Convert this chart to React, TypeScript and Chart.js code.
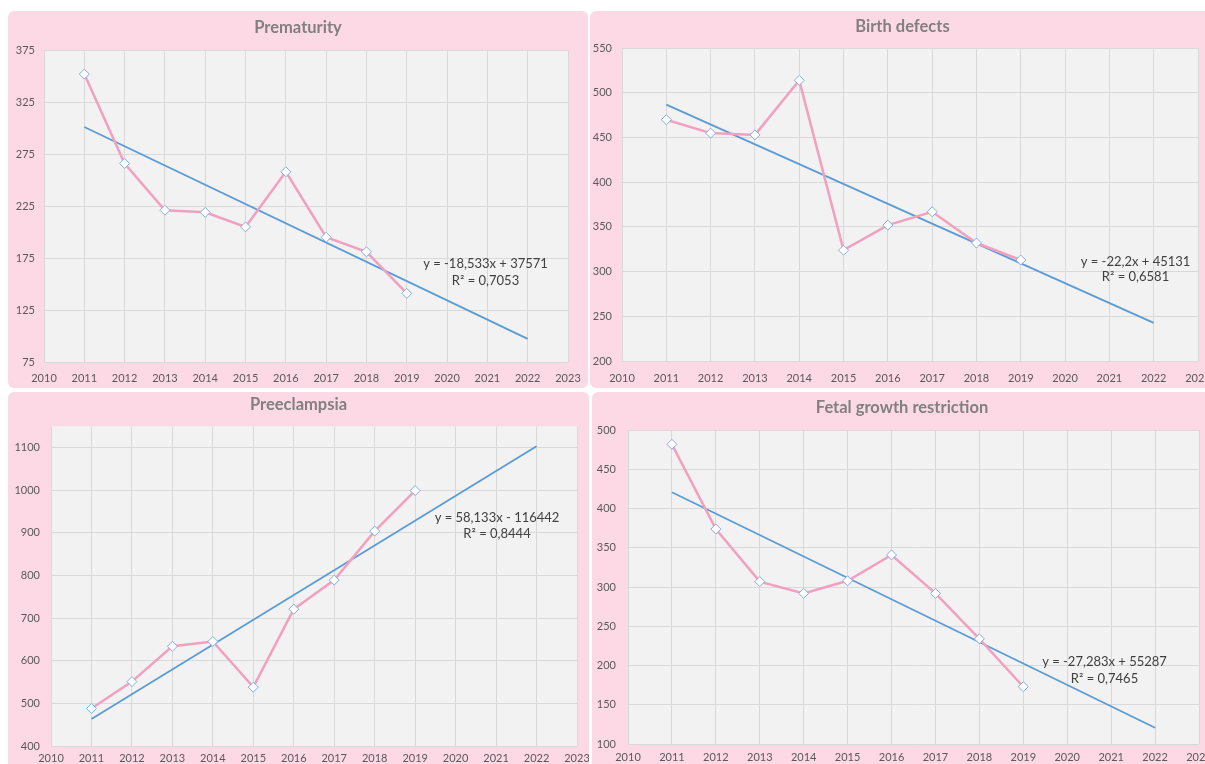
import React, { useEffect, useRef } from "react";
import { Chart, registerables } from "chart.js";

Chart.register(...registerables);

// ---------- data ----------
const years = [2011, 2012, 2013, 2014, 2015, 2016, 2017, 2018, 2019];
const yearTicks = [2010, 2011, 2012, 2013, 2014, 2015, 2016, 2017, 2018, 2019, 2020, 2021, 2022, 2023];
const trendYears = [2011, 2022];

const prematurity = [352, 266, 221, 219, 205, 258, 195, 181, 141];
const birthDefects = [470, 455, 453, 514, 324, 352, 367, 332, 313];
const preeclampsia = [488, 551, 634, 645, 538, 721, 789, 904, 999];
const fetalGrowth = [482, 374, 307, 292, 308, 341, 292, 234, 173];

// trend line coefficients [slope, intercept] as shown in the chart equations
const prematurityTrend = [-18.533, 37571];
const birthDefectsTrend = [-22.2, 45131];
const preeclampsiaTrend = [58.133, -116442];
const fetalGrowthTrend = [-27.283, 55287];

const prematurityTicks = [75, 125, 175, 225, 275, 325, 375];
const birthDefectsTicks = [200, 250, 300, 350, 400, 450, 500, 550];
const preeclampsiaTicks = [400, 500, 600, 700, 800, 900, 1000, 1100];
const fetalGrowthTicks = [100, 150, 200, 250, 300, 350, 400, 450, 500];

const titles = ["Prematurity", "Birth defects", "Preeclampsia", "Fetal growth restriction"];
const equations = ["y = -18,533x + 37571", "y = -22,2x + 45131", "y = 58,133x - 116442", "y = -27,283x + 55287"];
const rSquared = ["R\u00B2 = 0,7053", "R\u00B2 = 0,6581", "R\u00B2 = 0,8444", "R\u00B2 = 0,7465"];

// ---------- styles ----------
const PINK = "#fdd9e6";
const PLOT_BG = "#f2f2f2";
const GRID = "#d9d9d9";
const DATA_LINE = "#f2a0bf";
const TREND_LINE = "#5b9bd5";
const MARKER_BORDER = "#86addb";
const TEXT = "#595959";
const FONT = "Lato, 'Open Sans', sans-serif";

type Spec = {
  title: string;
  values: number[];
  trend: number[];
  yTicks: number[];
  yMin: number;
  yMax: number;
  eq: string;
  r2: string;
  box: { left: number; top: number; width: number; height: number };
  yWidth: number;
  padRight: number;
  xHeight: number;
  titleTop: number;
  titleBottom: number;
  yPad: number;
  xPad: number;
  eqX: number;
  eqY: number;
  eqY2: number;
};

const specs: Spec[] = [
  {
    title: titles[0], values: prematurity, trend: prematurityTrend, yTicks: prematurityTicks, yMin: 75, yMax: 375,
    eq: equations[0], r2: rSquared[0],
    box: { left: 8, top: 11, width: 580, height: 377 },
    yWidth: 36, padRight: 20, xHeight: 26, titleTop: 7.2, titleBottom: 12.2, yPad: 9, xPad: 10,
    eqX: 477.5, eqY: 253, eqY2: 270,
  },
  {
    title: titles[1], values: birthDefects, trend: birthDefectsTrend, yTicks: birthDefectsTicks, yMin: 200, yMax: 550,
    eq: equations[1], r2: rSquared[1],
    box: { left: 590, top: 11, width: 625, height: 377 },
    yWidth: 32, padRight: 17, xHeight: 27, titleTop: 6.2, titleBottom: 11.2, yPad: 10, xPad: 11,
    eqX: 545.5, eqY: 251, eqY2: 266,
  },
  {
    title: titles[2], values: preeclampsia, trend: preeclampsiaTrend, yTicks: preeclampsiaTicks, yMin: 400, yMax: 1150,
    eq: equations[2], r2: rSquared[2],
    box: { left: 8, top: 392, width: 581, height: 380 },
    yWidth: 43, padRight: 12, xHeight: 26, titleTop: 3.2, titleBottom: 11.2, yPad: 11, xPad: 6,
    eqX: 489, eqY: 126, eqY2: 142,
  },
  {
    title: titles[3], values: fetalGrowth, trend: fetalGrowthTrend, yTicks: fetalGrowthTicks, yMin: 100, yMax: 500,
    eq: equations[3], r2: rSquared[3],
    box: { left: 592, top: 392, width: 620, height: 380 },
    yWidth: 36, padRight: 13, xHeight: 28, titleTop: 6.2, titleBottom: 12.2, yPad: 12, xPad: 7,
    eqX: 512.5, eqY: 270, eqY2: 287,
  },
];

function Panel({ spec }: { spec: Spec }) {
  const ref = useRef<HTMLCanvasElement>(null);

  useEffect(() => {
    if (!ref.current) return;
    const points = years.map((x, i) => ({ x, y: spec.values[i] }));
    const trendPoints = trendYears.map((x) => ({ x, y: spec.trend[0] * x + spec.trend[1] }));

    const plotBg = {
      id: "plotBg",
      beforeDraw(chart: any) {
        const { ctx, chartArea } = chart;
        ctx.save();
        ctx.fillStyle = PLOT_BG;
        ctx.fillRect(chartArea.left, chartArea.top, chartArea.right - chartArea.left, chartArea.bottom - chartArea.top);
        ctx.restore();
      },
    };
    const equationLabel = {
      id: "equationLabel",
      afterDraw(chart: any) {
        const ctx = chart.ctx;
        ctx.save();
        ctx.fillStyle = "#404040";
        ctx.font = `13px ${FONT}`;
        ctx.textAlign = "center";
        ctx.textBaseline = "middle";
        ctx.fillText(spec.eq, spec.eqX, spec.eqY);
        ctx.fillText(spec.r2, spec.eqX, spec.eqY2);
        ctx.restore();
      },
    };

    const chart = new Chart(ref.current, {
      type: "scatter",
      data: {
        datasets: [
          {
            label: spec.title,
            data: points,
            showLine: true,
            borderColor: DATA_LINE,
            borderWidth: 2.5,
            pointStyle: "rectRot",
            pointRadius: 5,
            pointBackgroundColor: "#ffffff",
            pointBorderColor: MARKER_BORDER,
            pointBorderWidth: 1,
            order: 1,
          },
          {
            label: "Linear trend",
            data: trendPoints,
            showLine: true,
            borderColor: TREND_LINE,
            borderWidth: 1.8,
            pointRadius: 0,
            order: 2,
          },
        ],
      },
      options: {
        animation: false,
        responsive: false,
        layout: { padding: 0 },
        plugins: {
          legend: { display: false },
          tooltip: { enabled: false },
          title: {
            display: true,
            text: spec.title,
            color: "#808080",
            font: { family: FONT, size: 16.5, weight: "bold", lineHeight: 1.2 },
            padding: { top: spec.titleTop, bottom: spec.titleBottom },
          },
        },
        scales: {
          x: {
            type: "linear",
            min: 2010,
            max: 2023,
            afterBuildTicks: (axis: any) => {
              axis.ticks = yearTicks.map((v) => ({ value: v }));
            },
            afterFit: (axis: any) => {
              axis.height = spec.xHeight;
              axis.paddingLeft = 0;
              axis.paddingRight = spec.padRight;
            },
            grid: { color: GRID, drawTicks: false, lineWidth: 1 },
            border: { display: false },
            ticks: {
              color: TEXT,
              font: { family: FONT, size: 11 },
              padding: spec.xPad,
              maxRotation: 0,
              autoSkip: false,
              callback: (v: any) => String(v),
            },
          },
          y: {
            type: "linear",
            min: spec.yMin,
            max: spec.yMax,
            afterBuildTicks: (axis: any) => {
              axis.ticks = spec.yTicks.map((v) => ({ value: v }));
            },
            afterFit: (axis: any) => {
              axis.width = spec.yWidth;
              axis.paddingTop = 0;
              axis.paddingBottom = 0;
            },
            grid: { color: GRID, drawTicks: false, lineWidth: 1 },
            border: { display: false },
            ticks: {
              color: TEXT,
              font: { family: FONT, size: 11 },
              padding: spec.yPad,
              autoSkip: false,
              callback: (v: any) => String(v),
            },
          },
        },
      },
      plugins: [plotBg, equationLabel],
    } as any);
    return () => chart.destroy();
  }, [spec]);

  const { left, top, width, height } = spec.box;
  return (
    <div
      style={{
        position: "absolute",
        left,
        top,
        width,
        height,
        background: PINK,
        borderRadius: 6,
        overflow: "hidden",
      }}
    >
      <canvas ref={ref} width={width} height={height} style={{ display: "block", width, height }} />
    </div>
  );
}

export default function App() {
  return (
    <div
      style={{
        position: "fixed",
        left: 0,
        top: 0,
        width: 1205,
        height: 764,
        overflow: "hidden",
        background: "#ffffff",
      }}
    >
      {specs.map((s) => (
        <Panel key={s.title} spec={s} />
      ))}
    </div>
  );
}
